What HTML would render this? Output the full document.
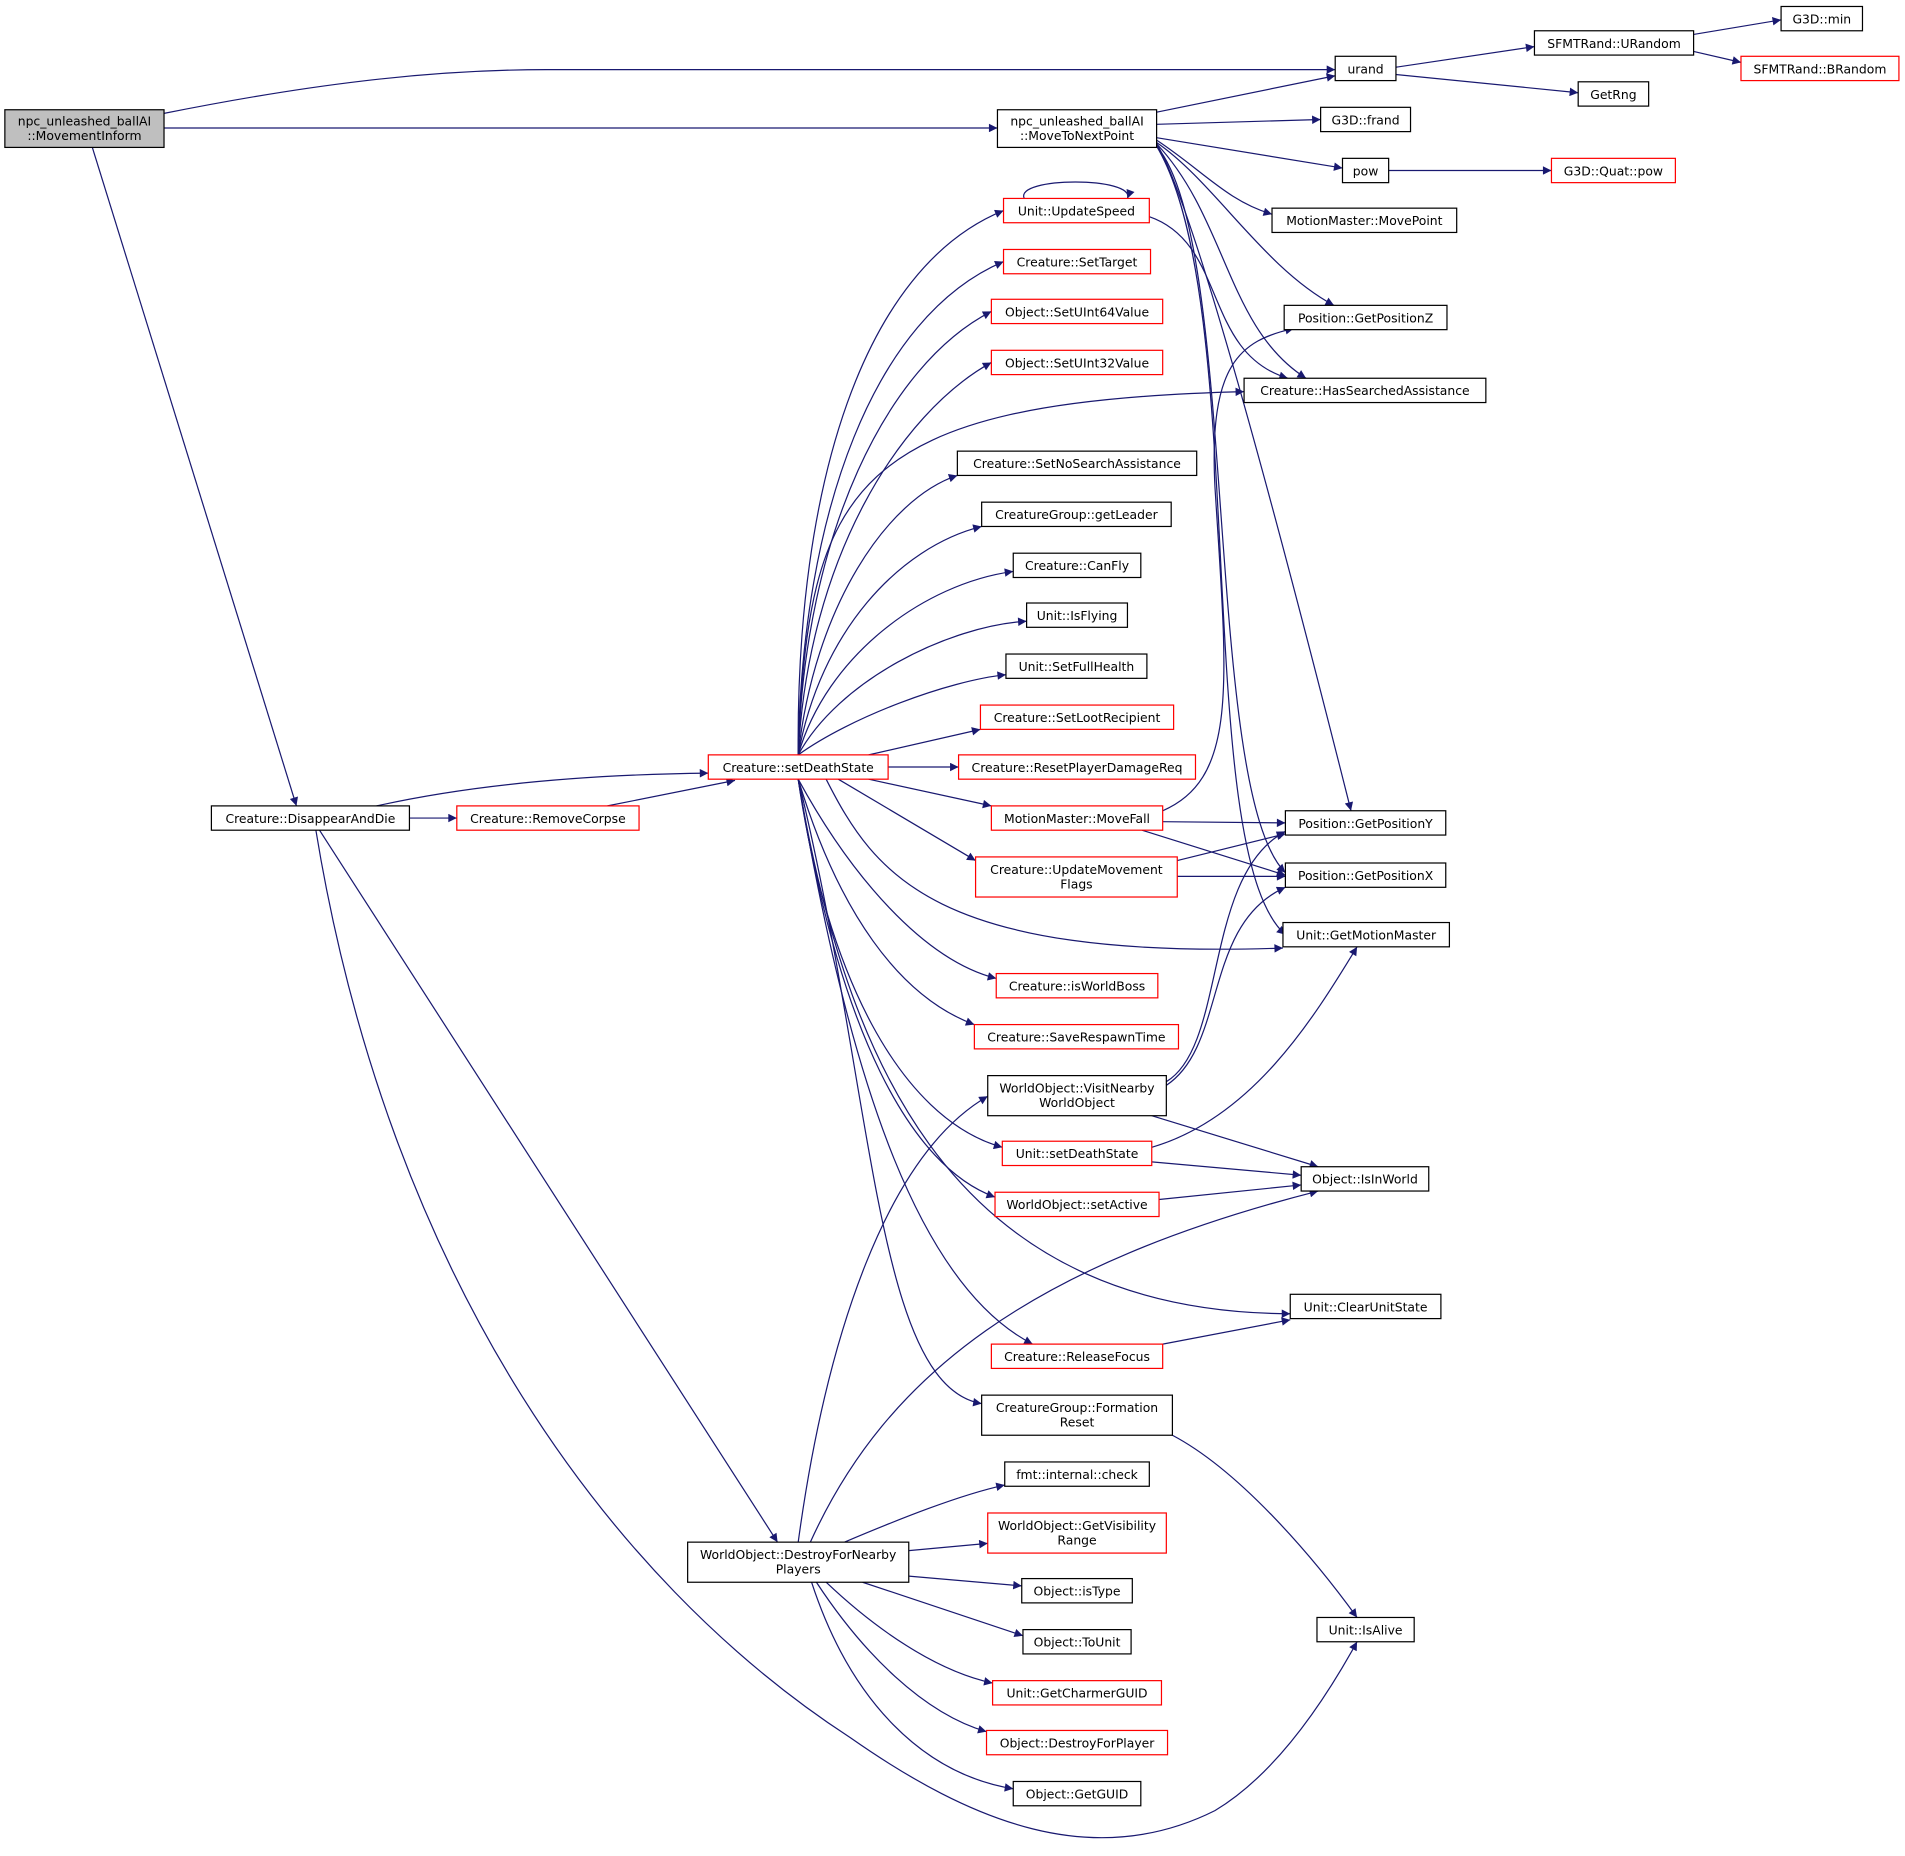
<!DOCTYPE html>
<html><head><meta charset="utf-8"><style>html,body{margin:0;padding:0;background:#fff}svg{display:block}</style></head><body>
<svg width="1905" height="1856" viewBox="0 0 1568 1527" xmlns="http://www.w3.org/2000/svg" font-family="DejaVu Sans, Liberation Sans, sans-serif" font-size="10.2">
<defs><marker id="a" viewBox="0 0 10 10" refX="10" refY="5" markerWidth="9" markerHeight="7" orient="auto" markerUnits="userSpaceOnUse"><path d="M0,0L10,5L0,10z" fill="#191970"/></marker></defs>
<g fill="none" stroke="#191970" stroke-width="1" marker-end="url(#a)">
<path d="M135,93 C250,70 350,57 450,57 L1099,57"/>
<path d="M135,105 L821,105"/>
<path d="M76,121 L244,663"/>
<path d="M1149,55 L1263,38"/>
<path d="M1394,28 L1466,16"/>
<path d="M1394,42 L1433,51"/>
<path d="M1149,61 L1299,76"/>
<path d="M952,92 L1099,62"/>
<path d="M952,102 L1087,98"/>
<path d="M952,113 L1105,138"/>
<path d="M1143,140 L1277,140"/>
<path d="M952,115 C990,140 1010,165 1047,176"/>
<path d="M952,117 C1000,150 1040,220 1098,251"/>
<path d="M952,118 C1010,180 1010,270 1075,311"/>
<path d="M952,118 C990,180 1090,580 1112,667"/>
<path d="M952,120 C1020,200 990,650 1058,718"/>
<path d="M952,120 C1030,250 980,700 1058,769"/>
<path d="M843,163 C835,145 935,145 928,163"/>
<path d="M946,178 C1010,200 990,290 1060,311"/>
<path d="M310,663 C400,643 500,637 583,636"/>
<path d="M337,673 L376,673"/>
<path d="M500,663 L605,642"/>
<path d="M263,683 L640,1269"/>
<path d="M260,683 C320,1050 500,1300 700,1430 C800,1500 900,1540 1000,1490 C1050,1460 1090,1400 1117,1351"/>
<path d="M657,621 C655,400 710,220 826,173"/>
<path d="M657,621 C660,420 720,260 826,215"/>
<path d="M657,621 C662,440 730,300 816,256"/>
<path d="M657,621 C665,460 740,340 816,298"/>
<path d="M657,621 C665,400 700,330 1024,322"/>
<path d="M657,621 C670,500 730,410 788,391"/>
<path d="M657,621 C675,520 740,450 808,433"/>
<path d="M657,621 C680,540 760,480 834,470"/>
<path d="M657,621 C690,560 780,515 845,511"/>
<path d="M657,621 C700,590 780,560 828,555"/>
<path d="M715,621 L807,600"/>
<path d="M731,631 L789,631"/>
<path d="M715,641 L816,663"/>
<path d="M690,641 L803,708"/>
<path d="M657,641 C700,720 760,790 820,805"/>
<path d="M657,641 C690,750 740,820 802,843"/>
<path d="M657,641 C680,800 740,920 825,944"/>
<path d="M657,641 C690,850 750,960 819,985"/>
<path d="M657,641 C700,900 800,1080 1062,1081"/>
<path d="M657,641 C700,900 760,1060 850,1106"/>
<path d="M657,641 C720,900 720,1140 808,1155"/>
<path d="M680,641 C720,720 770,790 1056,780"/>
<path d="M957,667 C1020,640 1010,560 1000,400 C995,300 1020,280 1065,270"/>
<path d="M957,676 L1058,677"/>
<path d="M940,683 L1058,720"/>
<path d="M969,708 L1058,686"/>
<path d="M969,721 L1058,721"/>
<path d="M960,890 C1010,860 990,720 1058,684"/>
<path d="M960,893 C1010,860 990,760 1058,730"/>
<path d="M948,918 L1085,960"/>
<path d="M948,944 C1030,920 1080,840 1117,779"/>
<path d="M948,956 L1071,967"/>
<path d="M954,987 L1071,975"/>
<path d="M957,1106 L1062,1086"/>
<path d="M965,1181 C1020,1210 1080,1280 1117,1331"/>
<path d="M657,1269 C680,1100 730,950 813,902"/>
<path d="M667,1269 C730,1130 850,1040 1085,980"/>
<path d="M695,1269 C740,1250 790,1230 827,1222"/>
<path d="M748,1276 L813,1270"/>
<path d="M748,1297 L841,1305"/>
<path d="M710,1302 L842,1346"/>
<path d="M680,1302 C720,1340 770,1375 817,1385"/>
<path d="M672,1302 C710,1360 760,1410 812,1425"/>
<path d="M668,1302 C700,1400 760,1460 834,1472"/>
</g>
<g stroke-width="1" text-anchor="middle" fill="#000">
<rect x="4" y="90" width="131" height="31" fill="#bfbfbf" stroke="#000"/><text x="69.5" y="103">npc_unleashed_ballAI</text><text x="69.5" y="115">::MovementInform</text>
<rect x="1099" y="46" width="50" height="20" fill="#fff" stroke="#000"/><text x="1124" y="60">urand</text>
<rect x="1263" y="25" width="131" height="20" fill="#fff" stroke="#000"/><text x="1328.5" y="39">SFMTRand::URandom</text>
<rect x="1466" y="5" width="67" height="20" fill="#fff" stroke="#000"/><text x="1499.5" y="19">G3D::min</text>
<rect x="1433" y="46" width="130" height="20" fill="#fff" stroke="red"/><text x="1498" y="60">SFMTRand::BRandom</text>
<rect x="1299" y="67" width="58" height="20" fill="#fff" stroke="#000"/><text x="1328" y="81">GetRng</text>
<rect x="821" y="90" width="131" height="31" fill="#fff" stroke="#000"/><text x="886.5" y="103">npc_unleashed_ballAI</text><text x="886.5" y="115">::MoveToNextPoint</text>
<rect x="1087" y="88" width="74" height="20" fill="#fff" stroke="#000"/><text x="1124" y="102">G3D::frand</text>
<rect x="1105" y="130" width="38" height="20" fill="#fff" stroke="#000"/><text x="1124" y="144">pow</text>
<rect x="1277" y="130" width="102" height="20" fill="#fff" stroke="red"/><text x="1328" y="144">G3D::Quat::pow</text>
<rect x="1047" y="171" width="152" height="20" fill="#fff" stroke="#000"/><text x="1123" y="185">MotionMaster::MovePoint</text>
<rect x="826" y="163" width="120" height="20" fill="#fff" stroke="red"/><text x="886" y="177">Unit::UpdateSpeed</text>
<rect x="826" y="205" width="121" height="20" fill="#fff" stroke="red"/><text x="886.5" y="219">Creature::SetTarget</text>
<rect x="816" y="246" width="141" height="20" fill="#fff" stroke="red"/><text x="886.5" y="260">Object::SetUInt64Value</text>
<rect x="816" y="288" width="141" height="20" fill="#fff" stroke="red"/><text x="886.5" y="302">Object::SetUInt32Value</text>
<rect x="1057" y="251" width="134" height="20" fill="#fff" stroke="#000"/><text x="1124" y="265">Position::GetPositionZ</text>
<rect x="1024" y="311" width="199" height="20" fill="#fff" stroke="#000"/><text x="1123.5" y="325">Creature::HasSearchedAssistance</text>
<rect x="788" y="371" width="197" height="20" fill="#fff" stroke="#000"/><text x="886.5" y="385">Creature::SetNoSearchAssistance</text>
<rect x="808" y="413" width="156" height="20" fill="#fff" stroke="#000"/><text x="886" y="427">CreatureGroup::getLeader</text>
<rect x="834" y="455" width="105" height="20" fill="#fff" stroke="#000"/><text x="886.5" y="469">Creature::CanFly</text>
<rect x="845" y="496" width="83" height="20" fill="#fff" stroke="#000"/><text x="886.5" y="510">Unit::IsFlying</text>
<rect x="828" y="538" width="116" height="20" fill="#fff" stroke="#000"/><text x="886" y="552">Unit::SetFullHealth</text>
<rect x="807" y="580" width="159" height="20" fill="#fff" stroke="red"/><text x="886.5" y="594">Creature::SetLootRecipient</text>
<rect x="583" y="621" width="148" height="20" fill="#fff" stroke="red"/><text x="657" y="635">Creature::setDeathState</text>
<rect x="789" y="621" width="195" height="20" fill="#fff" stroke="red"/><text x="886.5" y="635">Creature::ResetPlayerDamageReq</text>
<rect x="816" y="663" width="141" height="20" fill="#fff" stroke="red"/><text x="886.5" y="677">MotionMaster::MoveFall</text>
<rect x="1058" y="667" width="132" height="20" fill="#fff" stroke="#000"/><text x="1124" y="681">Position::GetPositionY</text>
<rect x="803" y="705" width="166" height="33" fill="#fff" stroke="red"/><text x="886" y="719">Creature::UpdateMovement</text><text x="886" y="731">Flags</text>
<rect x="1058" y="710" width="132" height="20" fill="#fff" stroke="#000"/><text x="1124" y="724">Position::GetPositionX</text>
<rect x="1056" y="759" width="137" height="20" fill="#fff" stroke="#000"/><text x="1124.5" y="773">Unit::GetMotionMaster</text>
<rect x="174" y="663" width="163" height="20" fill="#fff" stroke="#000"/><text x="255.5" y="677">Creature::DisappearAndDie</text>
<rect x="376" y="663" width="150" height="20" fill="#fff" stroke="red"/><text x="451" y="677">Creature::RemoveCorpse</text>
<rect x="820" y="801" width="133" height="20" fill="#fff" stroke="red"/><text x="886.5" y="815">Creature::isWorldBoss</text>
<rect x="802" y="843" width="168" height="20" fill="#fff" stroke="red"/><text x="886" y="857">Creature::SaveRespawnTime</text>
<rect x="813" y="885" width="147" height="33" fill="#fff" stroke="#000"/><text x="886.5" y="899">WorldObject::VisitNearby</text><text x="886.5" y="911">WorldObject</text>
<rect x="825" y="939" width="123" height="20" fill="#fff" stroke="red"/><text x="886.5" y="953">Unit::setDeathState</text>
<rect x="1071" y="960" width="105" height="20" fill="#fff" stroke="#000"/><text x="1123.5" y="974">Object::IsInWorld</text>
<rect x="819" y="981" width="135" height="20" fill="#fff" stroke="red"/><text x="886.5" y="995">WorldObject::setActive</text>
<rect x="1062" y="1065" width="124" height="20" fill="#fff" stroke="#000"/><text x="1124" y="1079">Unit::ClearUnitState</text>
<rect x="816" y="1106" width="141" height="20" fill="#fff" stroke="red"/><text x="886.5" y="1120">Creature::ReleaseFocus</text>
<rect x="808" y="1148" width="157" height="33" fill="#fff" stroke="#000"/><text x="886.5" y="1162">CreatureGroup::Formation</text><text x="886.5" y="1174">Reset</text>
<rect x="827" y="1203" width="119" height="20" fill="#fff" stroke="#000"/><text x="886.5" y="1217">fmt::internal::check</text>
<rect x="813" y="1245" width="147" height="33" fill="#fff" stroke="red"/><text x="886.5" y="1259">WorldObject::GetVisibility</text><text x="886.5" y="1271">Range</text>
<rect x="566" y="1269" width="182" height="33" fill="#fff" stroke="#000"/><text x="657" y="1283">WorldObject::DestroyForNearby</text><text x="657" y="1295">Players</text>
<rect x="841" y="1299" width="91" height="20" fill="#fff" stroke="#000"/><text x="886.5" y="1313">Object::isType</text>
<rect x="842" y="1341" width="89" height="20" fill="#fff" stroke="#000"/><text x="886.5" y="1355">Object::ToUnit</text>
<rect x="1084" y="1331" width="80" height="20" fill="#fff" stroke="#000"/><text x="1124" y="1345">Unit::IsAlive</text>
<rect x="817" y="1383" width="139" height="20" fill="#fff" stroke="red"/><text x="886.5" y="1397">Unit::GetCharmerGUID</text>
<rect x="812" y="1424" width="149" height="20" fill="#fff" stroke="red"/><text x="886.5" y="1438">Object::DestroyForPlayer</text>
<rect x="834" y="1466" width="105" height="20" fill="#fff" stroke="#000"/><text x="886.5" y="1480">Object::GetGUID</text>
</g>
</svg>
</body></html>
